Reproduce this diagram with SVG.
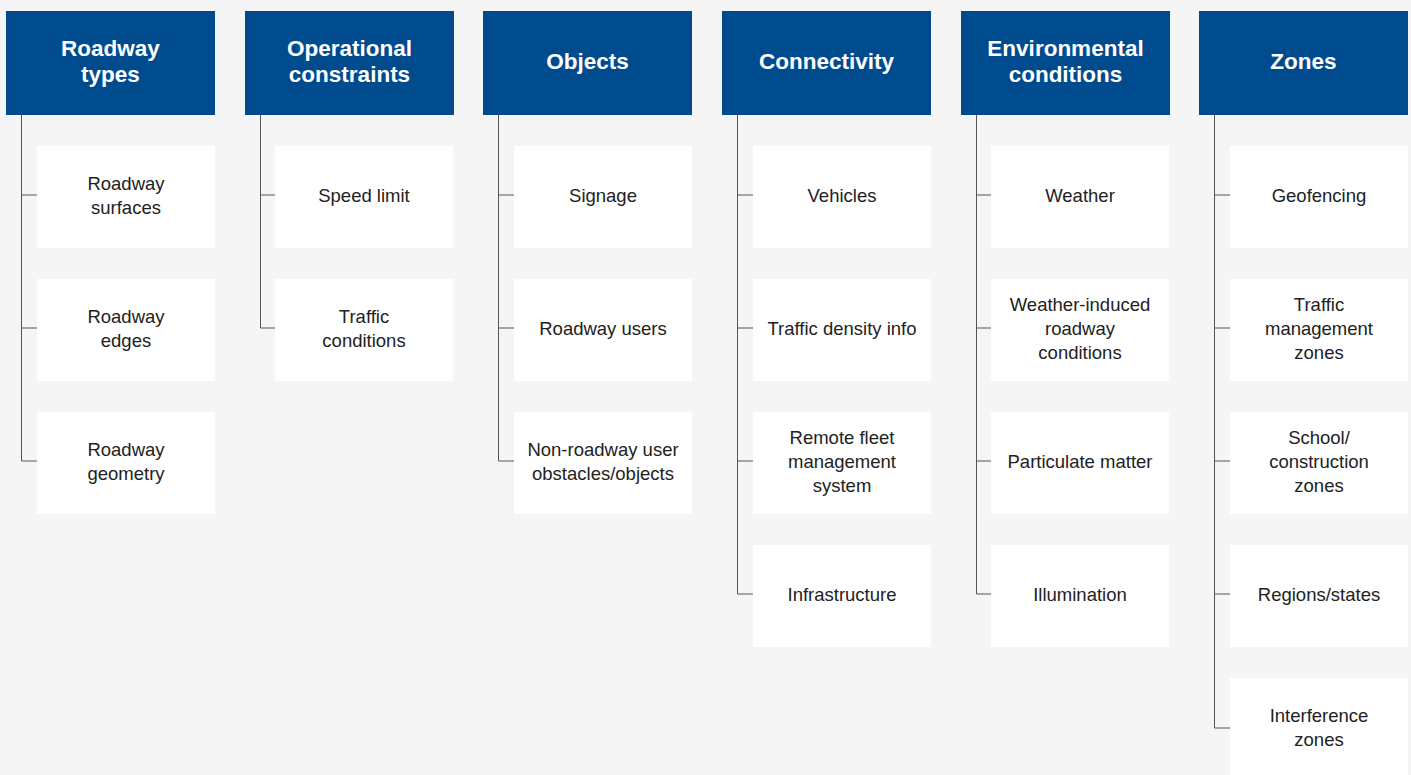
<svg xmlns="http://www.w3.org/2000/svg" width="1411" height="775" viewBox="0 0 1411 775">
<style>
.hd{fill:#004b8d}
.ht{font-family:"Liberation Sans",Arial,sans-serif;font-weight:bold;font-size:22.5px;fill:#fff;text-anchor:middle}
.bx{fill:#fff}
.ct{font-family:"Liberation Sans",Arial,sans-serif;font-size:18.5px;fill:#222;text-anchor:middle}
.ln{stroke:#555;stroke-width:1;fill:none}
</style>
<rect width="1411" height="775" fill="#f5f5f5"/>
<g id="connectors">
<path class="ln" d="M21.5 115V461M21.5 195H37M21.5 328H37M21.5 461H37"/>
<path class="ln" d="M260.5 115V328M260.5 195H275M260.5 328H275"/>
<path class="ln" d="M498.5 115V461M498.5 195H514M498.5 328H514M498.5 461H514"/>
<path class="ln" d="M737.5 115V594M737.5 195H753M737.5 328H753M737.5 461H753M737.5 594H753"/>
<path class="ln" d="M976.5 115V594M976.5 195H991M976.5 328H991M976.5 461H991M976.5 594H991"/>
<path class="ln" d="M1214.5 115V728M1214.5 195H1230M1214.5 328H1230M1214.5 461H1230M1214.5 594H1230M1214.5 728H1230"/>
</g>
<g id="h1"><rect class="hd" x="6" y="11" width="209" height="104"/><text class="ht" x="110.5" y="56">Roadway</text><text class="ht" x="110.5" y="82">types</text></g>
<g id="h2"><rect class="hd" x="245" y="11" width="209" height="104"/><text class="ht" x="349.5" y="56">Operational</text><text class="ht" x="349.5" y="82">constraints</text></g>
<g id="h3"><rect class="hd" x="483" y="11" width="209" height="104"/><text class="ht" x="587.5" y="69">Objects</text></g>
<g id="h4"><rect class="hd" x="722" y="11" width="209" height="104"/><text class="ht" x="826.5" y="69">Connectivity</text></g>
<g id="h5"><rect class="hd" x="961" y="11" width="209" height="104"/><text class="ht" x="1065.5" y="56">Environmental</text><text class="ht" x="1065.5" y="82">conditions</text></g>
<g id="h6"><rect class="hd" x="1199" y="11" width="209" height="104"/><text class="ht" x="1303.5" y="69">Zones</text></g>

<g id="c1a"><rect class="bx" x="37" y="146" width="178" height="102"/><text class="ct" x="126" y="190">Roadway</text><text class="ct" x="126" y="214">surfaces</text></g>
<g id="c1b"><rect class="bx" x="37" y="279" width="178" height="102"/><text class="ct" x="126" y="323">Roadway</text><text class="ct" x="126" y="347">edges</text></g>
<g id="c1c"><rect class="bx" x="37" y="412" width="178" height="102"/><text class="ct" x="126" y="456">Roadway</text><text class="ct" x="126" y="480">geometry</text></g>

<g id="c2a"><rect class="bx" x="275" y="146" width="178" height="102"/><text class="ct" x="364" y="202">Speed limit</text></g>
<g id="c2b"><rect class="bx" x="275" y="279" width="178" height="102"/><text class="ct" x="364" y="323">Traffic</text><text class="ct" x="364" y="347">conditions</text></g>

<g id="c3a"><rect class="bx" x="514" y="146" width="178" height="102"/><text class="ct" x="603" y="202">Signage</text></g>
<g id="c3b"><rect class="bx" x="514" y="279" width="178" height="102"/><text class="ct" x="603" y="335">Roadway users</text></g>
<g id="c3c"><rect class="bx" x="514" y="412" width="178" height="102"/><text class="ct" x="603" y="456">Non-roadway user</text><text class="ct" x="603" y="480">obstacles/objects</text></g>

<g id="c4a"><rect class="bx" x="753" y="146" width="178" height="102"/><text class="ct" x="842" y="202">Vehicles</text></g>
<g id="c4b"><rect class="bx" x="753" y="279" width="178" height="102"/><text class="ct" x="842" y="335">Traffic density info</text></g>
<g id="c4c"><rect class="bx" x="753" y="412" width="178" height="102"/><text class="ct" x="842" y="444">Remote fleet</text><text class="ct" x="842" y="468">management</text><text class="ct" x="842" y="492">system</text></g>
<g id="c4d"><rect class="bx" x="753" y="545" width="178" height="102"/><text class="ct" x="842" y="601">Infrastructure</text></g>

<g id="c5a"><rect class="bx" x="991" y="146" width="178" height="102"/><text class="ct" x="1080" y="202">Weather</text></g>
<g id="c5b"><rect class="bx" x="991" y="279" width="178" height="102"/><text class="ct" x="1080" y="311">Weather-induced</text><text class="ct" x="1080" y="335">roadway</text><text class="ct" x="1080" y="359">conditions</text></g>
<g id="c5c"><rect class="bx" x="991" y="412" width="178" height="102"/><text class="ct" x="1080" y="468">Particulate matter</text></g>
<g id="c5d"><rect class="bx" x="991" y="545" width="178" height="102"/><text class="ct" x="1080" y="601">Illumination</text></g>

<g id="c6a"><rect class="bx" x="1230" y="146" width="178" height="102"/><text class="ct" x="1319" y="202">Geofencing</text></g>
<g id="c6b"><rect class="bx" x="1230" y="279" width="178" height="102"/><text class="ct" x="1319" y="311">Traffic</text><text class="ct" x="1319" y="335">management</text><text class="ct" x="1319" y="359">zones</text></g>
<g id="c6c"><rect class="bx" x="1230" y="412" width="178" height="102"/><text class="ct" x="1319" y="444">School/</text><text class="ct" x="1319" y="468">construction</text><text class="ct" x="1319" y="492">zones</text></g>
<g id="c6d"><rect class="bx" x="1230" y="545" width="178" height="102"/><text class="ct" x="1319" y="601">Regions/states</text></g>
<g id="c6e"><rect class="bx" x="1230" y="678" width="178" height="102"/><text class="ct" x="1319" y="722">Interference</text><text class="ct" x="1319" y="746">zones</text></g>
</svg>
